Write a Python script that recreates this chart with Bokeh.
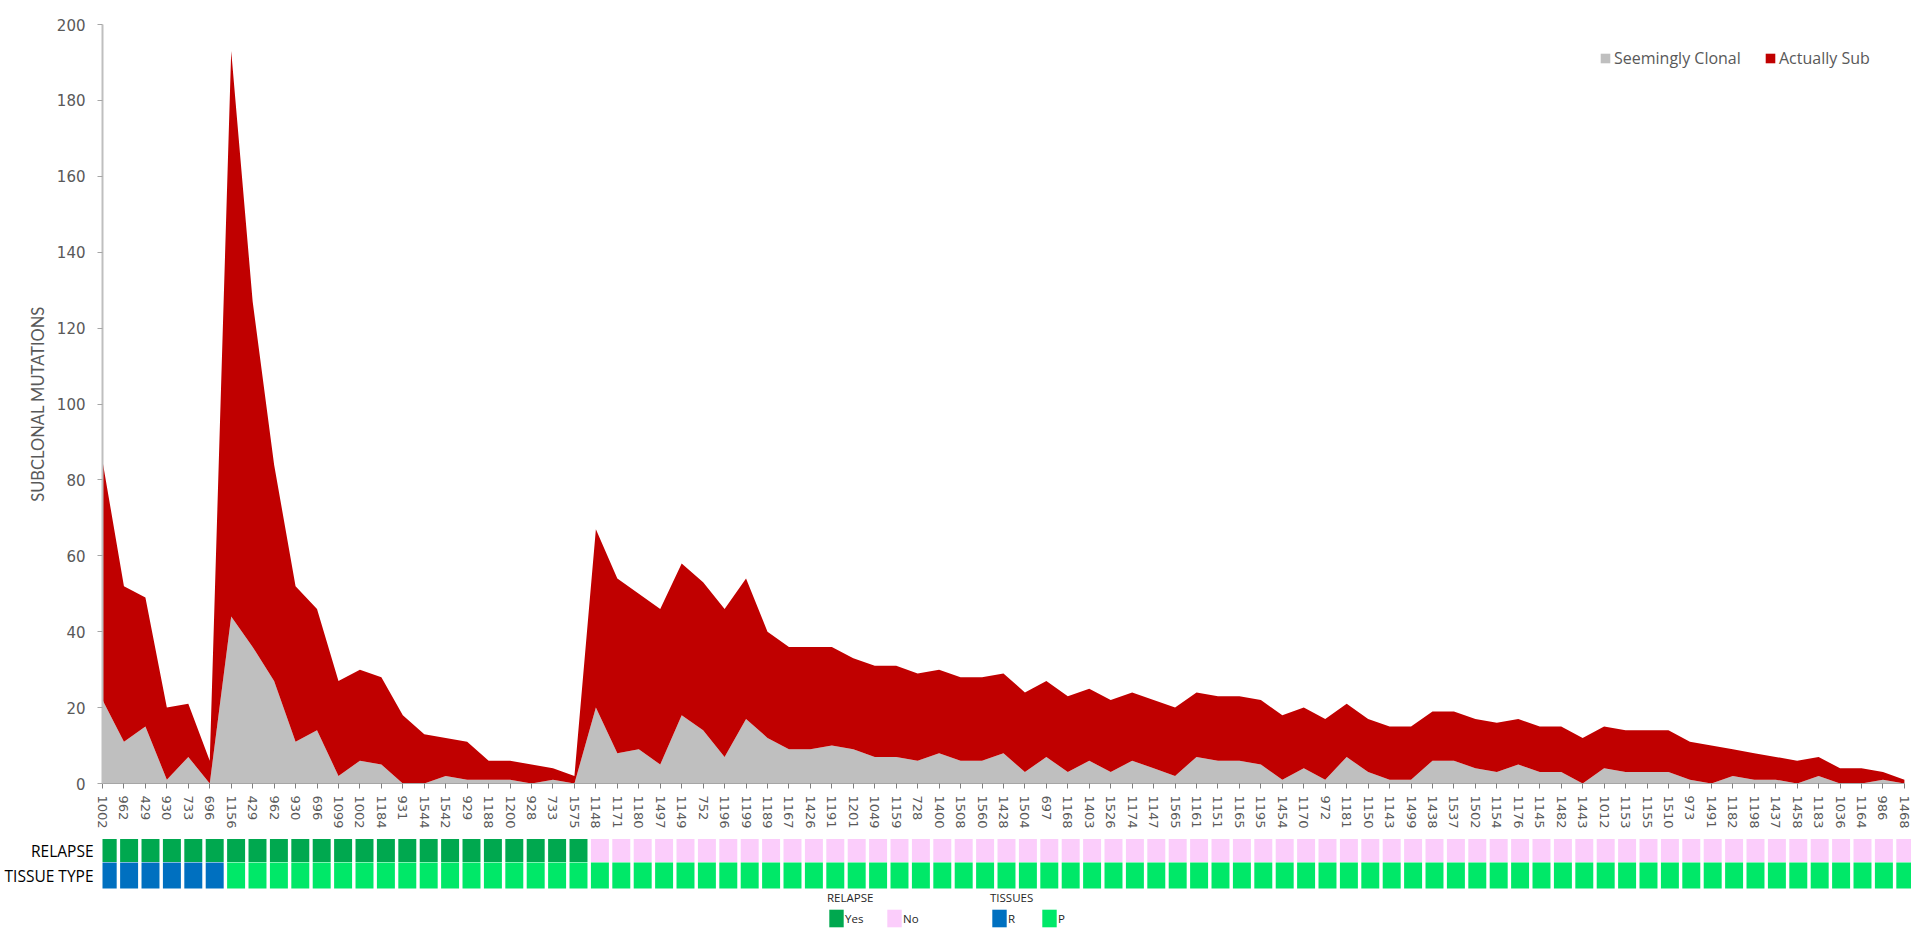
from bokeh.plotting import figure
from bokeh.models import Range1d, FixedTicker, Legend, LegendItem, ColumnDataSource
from bokeh.layouts import column
from bokeh.transform import factor_cmap
from bokeh.embed import file_html
from bokeh.resources import INLINE

samples = ["1002", "962", "429", "930", "733", "696", "1156", "429", "962", "930",
           "696", "1099", "1002", "1184", "931", "1544", "1542", "929", "1188", "1200",
           "928", "733", "1575", "1148", "1171", "1180", "1497", "1149", "752", "1196",
           "1199", "1189", "1167", "1426", "1191", "1201", "1049", "1159", "728", "1400",
           "1508", "1560", "1428", "1504", "697", "1168", "1403", "1526", "1174", "1147",
           "1565", "1161", "1151", "1165", "1195", "1454", "1170", "972", "1181", "1150",
           "1143", "1499", "1438", "1537", "1502", "1154", "1176", "1145", "1482", "1443",
           "1012", "1153", "1155", "1510", "973", "1491", "1182", "1198", "1437", "1458",
           "1183", "1036", "1164", "986", "1468"]

seemingly_clonal = [22, 11, 15, 1, 7, 0, 44, 36, 27, 11,
                    14, 2, 6, 5, 0, 0, 2, 1, 1, 1,
                    0, 1, 0, 20, 8, 9, 5, 18, 14, 7,
                    17, 12, 9, 9, 10, 9, 7, 7, 6, 8,
                    6, 6, 8, 3, 7, 3, 6, 3, 6, 4,
                    2, 7, 6, 6, 5, 1, 4, 1, 7, 3,
                    1, 1, 6, 6, 4, 3, 5, 3, 3, 0,
                    4, 3, 3, 3, 1, 0, 2, 1, 1, 0,
                    2, 0, 0, 1, 0]

actually_sub = [63, 41, 34, 19, 14, 6, 149, 91, 57, 41,
                32, 25, 24, 23, 18, 13, 10, 10, 5, 5,
                5, 3, 2, 47, 46, 41, 41, 40, 39, 39,
                37, 28, 27, 27, 26, 24, 24, 24, 23, 22,
                22, 22, 21, 21, 20, 20, 19, 19, 18, 18,
                18, 17, 17, 17, 17, 17, 16, 16, 14, 14,
                14, 14, 13, 13, 13, 13, 12, 12, 12, 12,
                11, 11, 11, 11, 10, 10, 7, 7, 6, 6,
                5, 4, 4, 2, 1]

relapse = ["Yes", "Yes", "Yes", "Yes", "Yes", "Yes", "Yes", "Yes", "Yes", "Yes",
           "Yes", "Yes", "Yes", "Yes", "Yes", "Yes", "Yes", "Yes", "Yes", "Yes",
           "Yes", "Yes", "Yes", "No", "No", "No", "No", "No", "No", "No",
           "No", "No", "No", "No", "No", "No", "No", "No", "No", "No",
           "No", "No", "No", "No", "No", "No", "No", "No", "No", "No",
           "No", "No", "No", "No", "No", "No", "No", "No", "No", "No",
           "No", "No", "No", "No", "No", "No", "No", "No", "No", "No",
           "No", "No", "No", "No", "No", "No", "No", "No", "No", "No",
           "No", "No", "No", "No", "No"]

tissue = ["R", "R", "R", "R", "R", "R", "P", "P", "P", "P",
          "P", "P", "P", "P", "P", "P", "P", "P", "P", "P",
          "P", "P", "P", "P", "P", "P", "P", "P", "P", "P",
          "P", "P", "P", "P", "P", "P", "P", "P", "P", "P",
          "P", "P", "P", "P", "P", "P", "P", "P", "P", "P",
          "P", "P", "P", "P", "P", "P", "P", "P", "P", "P",
          "P", "P", "P", "P", "P", "P", "P", "P", "P", "P",
          "P", "P", "P", "P", "P", "P", "P", "P", "P", "P",
          "P", "P", "P", "P", "P"]

y_ticks = [0, 20, 40, 60, 80, 100, 120, 140, 160, 180, 200]

GREY_TXT = "#595959"
idx = list(range(len(samples)))

src = ColumnDataSource(dict(x=idx, clonal=seemingly_clonal, sub=actually_sub,
                            relapse=relapse, tissue=tissue))

# ---------------- main area chart ----------------
p = figure(width=1911, height=835, x_range=Range1d(0, 84.33),
           y_range=Range1d(0, 200), output_backend="svg", toolbar_location=None,
           min_border_left=102, min_border_right=0, min_border_top=24,
           min_border_bottom=52)
p.outline_line_color = None
p.grid.visible = False

areas = p.varea_stack(["clonal", "sub"], x="x", source=src,
                      color=["#BFBFBF", "#C00000"])

leg = Legend(items=[LegendItem(label="Seemingly Clonal", renderers=[areas[0]]),
                    LegendItem(label="Actually Sub", renderers=[areas[1]])],
             location=(1497, 714), orientation="horizontal",
             glyph_width=12, glyph_height=12, label_standoff=3, label_width=150,
             spacing=0, padding=0, margin=0, border_line_color=None,
             background_fill_alpha=0, label_text_font="Open Sans",
             label_text_font_size="16px", label_text_color=GREY_TXT)
p.add_layout(leg)

xa = p.xaxis[0]
xa.ticker = FixedTicker(ticks=idx)
xa.bounds = (0, len(samples) - 1)
xa.major_label_overrides = {i: s for i, s in enumerate(samples)}
xa.major_label_orientation = "vertical"
xa.major_label_text_font = "DejaVu Sans"
xa.major_label_text_font_size = "13px"
xa.major_label_text_color = GREY_TXT
xa.major_label_standoff = 7
xa.axis_line_color = "#A6A6A6"
xa.major_tick_line_color = "#7F7F7F"
xa.major_tick_out = 5
xa.major_tick_in = 0
xa.minor_tick_line_color = None

ya = p.yaxis[0]
ya.ticker = FixedTicker(ticks=y_ticks)
ya.major_label_text_font = "DejaVu Sans"
ya.major_label_text_font_size = "15px"
ya.major_label_text_color = GREY_TXT
ya.major_label_standoff = 12
ya.axis_line_color = "#BFBFBF"
ya.axis_line_width = 2
ya.major_tick_line_color = "#A6A6A6"
ya.major_tick_out = 5
ya.major_tick_in = 0
ya.minor_tick_line_color = None
ya.axis_label = "SUBCLONAL MUTATIONS"
ya.axis_label_text_font = "Lato"
ya.axis_label_text_font_style = "normal"
ya.axis_label_text_font_size = "16.5px"
ya.axis_label_text_color = GREY_TXT
ya.axis_label_standoff = 6

# ---------------- annotation rows + bottom legends ----------------
h = figure(width=1911, height=94, x_range=Range1d(-0.243, 84.29),
           y_range=Range1d(0, 91), output_backend="svg", toolbar_location=None,
           x_axis_location=None, min_border_left=102, min_border_right=0,
           min_border_top=3, min_border_bottom=0)
h.outline_line_color = None
h.grid.visible = False

r_rel = h.rect(x="x", y=79, width=0.84, height=23, source=src, line_color=None,
               fill_color=factor_cmap("relapse", ["#00A84F", "#FBCDFB"], ["Yes", "No"]))
r_tis = h.rect(x="x", y=54, width=0.84, height=26, source=src, line_color=None,
               fill_color=factor_cmap("tissue", ["#0070C0", "#00E868"], ["R", "P"]))

ha = h.yaxis[0]
ha.ticker = FixedTicker(ticks=[79, 54])
ha.major_label_overrides = {79: "RELAPSE", 54: "TISSUE TYPE"}
ha.major_label_text_font = "Open Sans"
ha.major_label_text_font_size = "15.5px"
ha.major_label_text_color = "#000000"
ha.major_label_standoff = 3
ha.axis_line_color = None
ha.major_tick_line_color = None
ha.minor_tick_line_color = None

common = dict(orientation="horizontal", glyph_width=18, glyph_height=22,
              label_standoff=0, spacing=0, padding=0, margin=0,
              border_line_color=None, background_fill_alpha=0,
              title_text_font_style="normal", title_text_font="Open Sans",
              title_text_font_size="11.5px", title_text_color="#262626",
              title_standoff=2, label_text_font="Open Sans",
              label_text_font_size="11.5px", label_text_color="#262626")

leg_rel = Legend(title="RELAPSE",
                 items=[LegendItem(label="Yes", renderers=[r_rel], index=0),
                        LegendItem(label="No", renderers=[r_rel], index=23)],
                 location=(725, 0), label_width=40, **common)
leg_tis = Legend(title="TISSUES",
                 items=[LegendItem(label="R", renderers=[r_tis], index=0),
                        LegendItem(label="P", renderers=[r_tis], index=6)],
                 location=(888, 0), label_width=32, **common)
h.add_layout(leg_rel)
h.add_layout(leg_tis)

layout = column(p, h, spacing=0)
open("out.html", "w").write(file_html(layout, INLINE))
